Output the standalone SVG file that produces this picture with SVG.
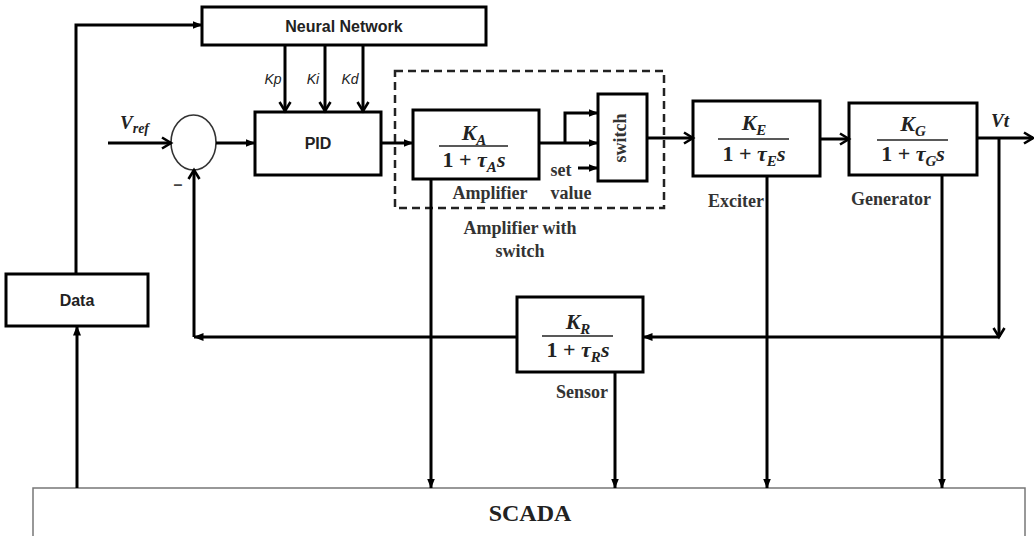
<svg xmlns="http://www.w3.org/2000/svg" width="1034" height="536" viewBox="0 0 1034 536">
<style>
.box{fill:#fff;stroke:#000;stroke-width:3}
.ln{fill:none;stroke:#000;stroke-width:3}
.sans{font-family:"Liberation Sans",Arial,sans-serif;font-weight:bold;font-size:16px;fill:#222}
.ital{font-family:"Liberation Sans",Arial,sans-serif;font-style:italic;font-size:14px;fill:#222}
.ser{font-family:"Liberation Serif","Times New Roman",serif;font-weight:bold;font-size:18px;fill:#333}
.math{font-family:"Liberation Serif","Times New Roman",serif;font-weight:bold;font-size:22px;fill:#222}
.mi{font-style:italic}
.frac{stroke:#222;stroke-width:1.6}
</style>
<defs>
<marker id="chev" viewBox="0 0 14 14" refX="11" refY="7" markerWidth="14" markerHeight="14" orient="auto" markerUnits="userSpaceOnUse">
<path d="M2,1.5 L11,7 L2,12.5" fill="none" stroke="#000" stroke-width="2.6"/>
</marker>
<marker id="tri" viewBox="0 0 10 8" refX="9.5" refY="4" markerWidth="10" markerHeight="8" orient="auto" markerUnits="userSpaceOnUse">
<path d="M0,0 L10,4 L0,8 z" fill="#000"/>
</marker>
</defs>
<rect width="1034" height="536" fill="#fff"/>

<g id="scada">
<rect x="33" y="488" width="992" height="60" fill="#fff" stroke="#777" stroke-width="1.5"/>
<text x="530" y="521" text-anchor="middle" class="ser" style="font-size:24px;fill:#222">SCADA</text>
</g>

<g id="amp-switch-group">
<rect x="395" y="71" width="269" height="137" fill="none" stroke="#222" stroke-width="2.5" stroke-dasharray="8,5"/>
<text x="520" y="234" text-anchor="middle" class="ser">Amplifier with</text>
<text x="520" y="257" text-anchor="middle" class="ser">switch</text>
</g>

<g id="neural-network">
<rect class="box" x="202" y="7" width="284" height="38"/>
<text x="344" y="32" text-anchor="middle" class="sans">Neural Network</text>
</g>

<g id="pid">
<rect class="box" x="255" y="112" width="126" height="63"/>
<text x="318" y="149" text-anchor="middle" class="sans">PID</text>
</g>

<g id="summer">
<ellipse cx="193.5" cy="142.5" rx="22.5" ry="27.5" fill="#fff" stroke="#333" stroke-width="1.6"/>
<text x="178" y="190" text-anchor="middle" class="sans" style="fill:#444">–</text>
</g>

<g id="data">
<rect class="box" x="6" y="274" width="142" height="52"/>
<text x="77" y="306" text-anchor="middle" class="sans">Data</text>
</g>

<g id="amplifier">
<rect class="box" x="413" y="110" width="126" height="69"/>
<text x="474" y="140" text-anchor="middle" class="math"><tspan class="mi">K</tspan><tspan class="mi" font-size="15" dy="5">A</tspan></text>
<line class="frac" x1="439" y1="146" x2="508" y2="146"/>
<text x="474" y="167" text-anchor="middle" class="math">1 + <tspan class="mi">τ</tspan><tspan class="mi" font-size="15" dy="5">A</tspan><tspan class="mi" dy="-5">s</tspan></text>
<text x="490" y="199" text-anchor="middle" class="ser">Amplifier</text>
</g>

<g id="switch">
<rect class="box" x="598" y="94" width="49" height="87"/>
<text x="0" y="0" transform="translate(626,138) rotate(-90)" text-anchor="middle" class="ser">switch</text>
<text x="561" y="176" text-anchor="middle" class="ser">set</text>
<text x="571" y="199" text-anchor="middle" class="ser">value</text>
</g>

<g id="exciter">
<rect class="box" x="693" y="101" width="127" height="75"/>
<text x="754" y="130" text-anchor="middle" class="math"><tspan class="mi">K</tspan><tspan class="mi" font-size="15" dy="5">E</tspan></text>
<line class="frac" x1="718" y1="139" x2="789" y2="139"/>
<text x="754" y="161" text-anchor="middle" class="math">1 + <tspan class="mi">τ</tspan><tspan class="mi" font-size="15" dy="5">E</tspan><tspan class="mi" dy="-5">s</tspan></text>
<text x="736" y="207" text-anchor="middle" class="ser">Exciter</text>
</g>

<g id="generator">
<rect class="box" x="849" y="103" width="128" height="72"/>
<text x="913" y="131" text-anchor="middle" class="math"><tspan class="mi">K</tspan><tspan class="mi" font-size="15" dy="5">G</tspan></text>
<line class="frac" x1="877" y1="140" x2="948" y2="140"/>
<text x="913" y="161" text-anchor="middle" class="math">1 + <tspan class="mi">τ</tspan><tspan class="mi" font-size="15" dy="5">G</tspan><tspan class="mi" dy="-5">s</tspan></text>
<text x="891" y="205" text-anchor="middle" class="ser">Generator</text>
</g>

<g id="sensor">
<rect class="box" x="517" y="297" width="126" height="75"/>
<text x="578" y="329" text-anchor="middle" class="math"><tspan class="mi">K</tspan><tspan class="mi" font-size="15" dy="5">R</tspan></text>
<line class="frac" x1="542" y1="336" x2="613" y2="336"/>
<text x="578" y="357" text-anchor="middle" class="math">1 + <tspan class="mi">τ</tspan><tspan class="mi" font-size="15" dy="5">R</tspan><tspan class="mi" dy="-5">s</tspan></text>
<text x="582" y="398" text-anchor="middle" class="ser">Sensor</text>
</g>

<g id="labels">
<text x="273" y="84" text-anchor="middle" class="ital">Kp</text>
<text x="313" y="84" text-anchor="middle" class="ital">Ki</text>
<text x="350" y="84" text-anchor="middle" class="ital">Kd</text>
<text x="120" y="129" class="math" style="font-size:19px"><tspan class="mi">V</tspan><tspan class="mi" font-size="14" dy="4">ref</tspan></text>
<text x="1000" y="127" text-anchor="middle" class="math mi" style="font-size:19px">Vt</text>
</g>

<g id="connectors">
<path class="ln" d="M76,274 L76,25 L202,25" marker-end="url(#tri)"/>
<path class="ln" d="M285,45 L285,111" marker-end="url(#chev)"/>
<path class="ln" d="M325,45 L325,111" marker-end="url(#chev)"/>
<path class="ln" d="M363,45 L363,111" marker-end="url(#chev)"/>
<path class="ln" d="M108,143 L171,143" marker-end="url(#chev)"/>
<path class="ln" d="M216,143 L255,143" marker-end="url(#tri)"/>
<path class="ln" d="M381,143 L413,143" marker-end="url(#tri)"/>
<path class="ln" d="M539,143 L598,143" marker-end="url(#tri)"/>
<path class="ln" d="M565,143 L565,113 L598,113" marker-end="url(#tri)"/>
<path class="ln" d="M578,168 L598,168" marker-end="url(#tri)"/>
<path class="ln" d="M647,138 L693,138" marker-end="url(#chev)"/>
<path class="ln" d="M820,139 L849,139" marker-end="url(#chev)"/>
<path class="ln" d="M977,138 L1033,138" marker-end="url(#chev)"/>
<path class="ln" d="M999,138 L999,337" marker-end="url(#chev)"/>
<path class="ln" d="M999,337 L643,337" marker-end="url(#tri)"/>
<path class="ln" d="M517,337 L194,337" marker-end="url(#tri)"/>
<path class="ln" d="M194,337 L194,170" marker-end="url(#chev)"/>
<path class="ln" d="M431,179 L431,488" marker-end="url(#tri)"/>
<path class="ln" d="M615,372 L615,488" marker-end="url(#tri)"/>
<path class="ln" d="M767,176 L767,488" marker-end="url(#tri)"/>
<path class="ln" d="M942,175 L942,488" marker-end="url(#tri)"/>
<path class="ln" d="M77,488 L77,326" marker-end="url(#tri)"/>
</g>
</svg>
